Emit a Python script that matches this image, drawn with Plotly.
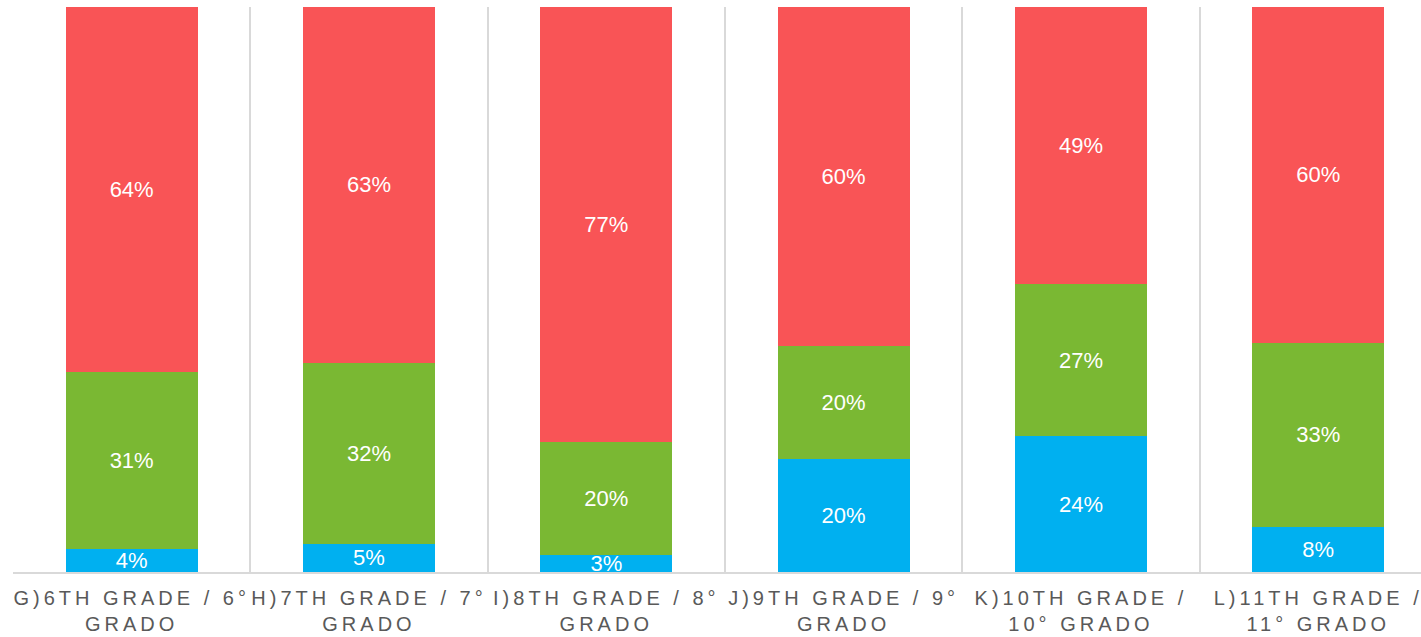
import plotly.graph_objects as go

categories = [
    "G)6TH GRADE / 6°<br>GRADO",
    "H)7TH GRADE / 7°<br>GRADO",
    "I)8TH GRADE / 8°<br>GRADO",
    "J)9TH GRADE / 9°<br>GRADO",
    "K)10TH GRADE /<br>10° GRADO",
    "L)11TH GRADE /<br>11° GRADO",
]
blue_vals = [4, 5, 3, 20, 24, 8]
green_vals = [31, 32, 20, 20, 27, 33]
red_vals = [64, 63, 77, 60, 49, 60]

series = [
    ("Blue", blue_vals, "#00B0F0"),
    ("Green", green_vals, "#7AB833"),
    ("Red", red_vals, "#F95456"),
]

fig = go.Figure()
for name, vals, color in series:
    fig.add_trace(go.Bar(
        x=categories,
        y=vals,
        name=name,
        marker=dict(color=color, line=dict(width=0)),
        text=[f"{v}%" for v in vals],
        textposition="inside",
        insidetextanchor="middle",
        constraintext="none",
        textfont=dict(family="Liberation Sans, Arial, sans-serif", size=22, color="white"),
        hoverinfo="skip",
    ))

fig.update_layout(
    barmode="stack",
    barnorm="percent",
    bargap=0.444,
    width=1421,
    height=637,
    margin=dict(l=13, r=0, t=7, b=65),
    paper_bgcolor="white",
    plot_bgcolor="white",
    showlegend=False,
    uniformtext=dict(minsize=22, mode="show"),
    font=dict(family="Liberation Sans, Arial, sans-serif"),
)
fig.update_xaxes(
    type="category",
    range=[-0.5, 5.433],
    tickson="boundaries",
    ticks="",
    showgrid=True,
    gridcolor="#D9D9D9",
    gridwidth=1.5,
    showline=True,
    linecolor="#D9D9D9",
    linewidth=1.5,
    tickfont=dict(family="Liberation Sans, Arial, sans-serif", size=20, color="#595959"),
    tickangle=0,
    ticklabelstandoff=7,
    fixedrange=True,
)
fig.update_yaxes(
    range=[0, 100],
    visible=False,
    showgrid=False,
    zeroline=False,
    fixedrange=True,
)

css = ("var s=document.createElement('style');"
       "s.innerHTML='html,body{margin:0;padding:0;overflow:hidden;} .xtick text{letter-spacing:4px;}';"
       "document.head.appendChild(s);")
fig.write_html("out.html", post_script=css, config={"displayModeBar": False})
